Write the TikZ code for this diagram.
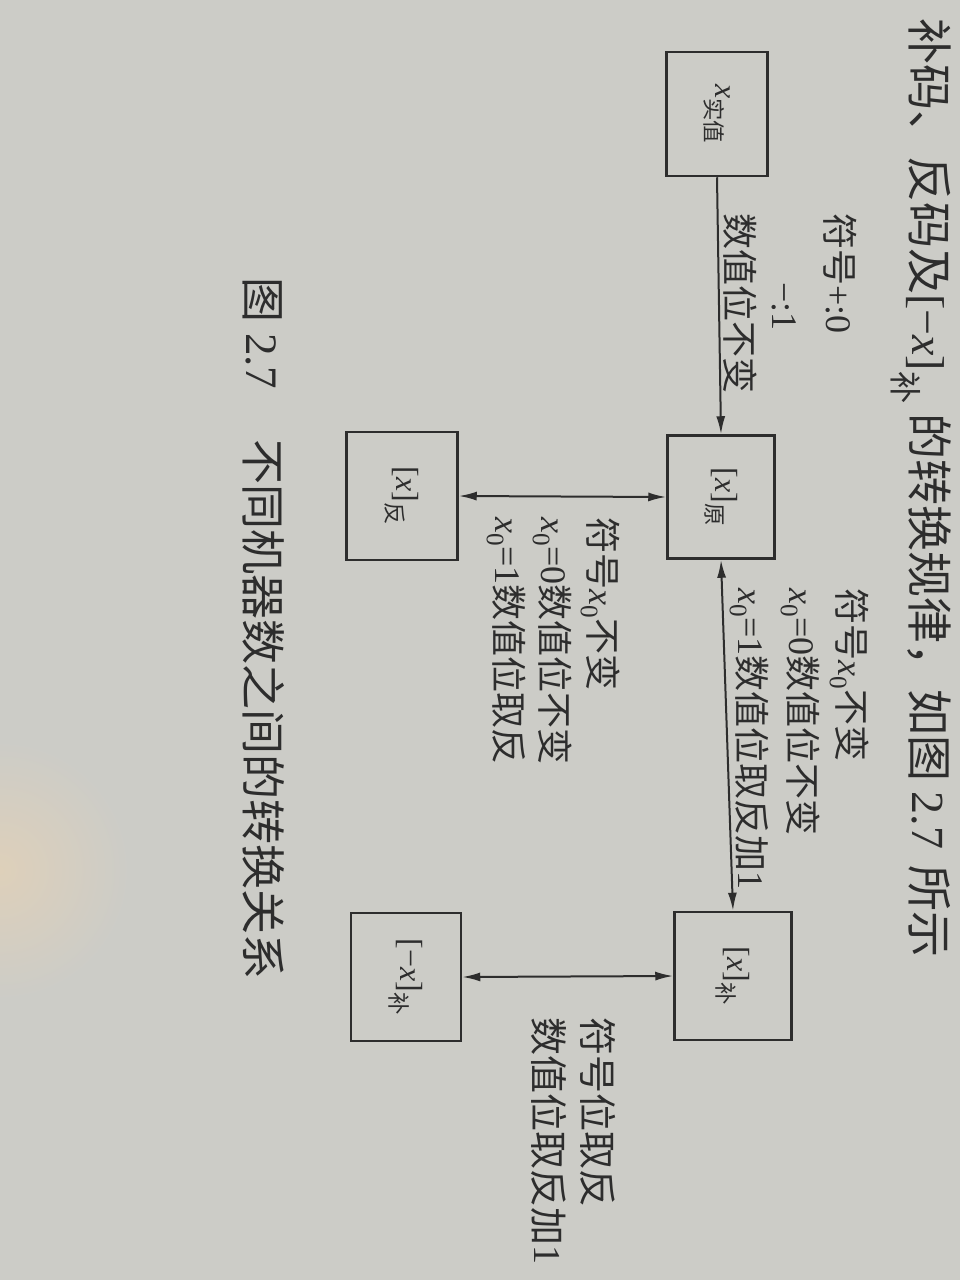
\documentclass[tikz,border=0pt]{standalone}
\usepackage{fontspec}
\setmainfont{Liberation Serif}
\newfontfamily\cjk{Noto Sans CJK SC}
\usetikzlibrary{arrows.meta}
\newcommand{\zh}[1]{{\cjk #1}}
\newcommand{\xx}{\textit{x}}
\definecolor{paper}{RGB}{204,204,199}
\definecolor{ink}{RGB}{45,45,45}
\definecolor{glare}{RGB}{222,208,186}
\begin{document}
\begin{tikzpicture}[x=1pt,y=-1pt,
  box/.style={draw=ink, line width=2.5pt, rotate=-90, inner sep=0pt, text=ink,
    font=\fontsize{32}{36}\selectfont},
  lab/.style={rotate=-90, anchor=base west, inner sep=0pt, text=ink,
    font=\fontsize{36}{40}\selectfont},
  arr/.style={draw=ink, line width=2pt, -{Latex[length=18pt,width=9pt]}},
  darr/.style={draw=ink, line width=2pt, {Latex[length=18pt,width=9pt]}-{Latex[length=18pt,width=9pt]}},
]
\useasboundingbox (0,0) rectangle (960,1280);
\clip (0,0) rectangle (960,1280);
\fill[paper] (0,0) rectangle (960,1280);
\shade[inner color=glare, outer color=paper] (0,870) circle (130);

% boxes
\node[box, minimum width=124pt, minimum height=101pt] (xs) at (717,114) {\xx\textsubscript{\zh{实值}}};
\node[box, minimum width=123pt, minimum height=107pt] (yuan) at (721,497) {[\xx]\textsubscript{\zh{原}}};
\node[box, minimum width=128pt, minimum height=111pt] (fan) at (402,496) {[\xx]\textsubscript{\zh{反}}};
\node[box, minimum width=128pt, minimum height=117pt] (bu) at (733,976) {[\xx]\textsubscript{\zh{补}}};
\node[box, minimum width=128pt, minimum height=110pt] (nbu) at (406,977) {[−\xx]\textsubscript{\zh{补}}};

% connectors
\draw[arr] (xs.east) -- (yuan.west);
\draw[darr] (yuan.south) -- (fan.north);
\draw[darr] (yuan.east) -- (bu.west);
\draw[darr] (bu.south) -- (nbu.north);

% labels: x实值 -> [x]原
\node[lab] (l1) at (726,213) {\zh{数值位不变}};
\node[lab] (l2) at (826,213) {\zh{符号}+:0};
\node[lab] (l3) at (772,282) {−:1};

% labels: [x]原 <-> [x]反
\node[lab] (l4a) at (589,517) {\zh{符号}\xx\textsubscript{0}\zh{不变}};
\node[lab] (l4b) at (541,517) {\xx\textsubscript{0}=0\zh{数值位不变}};
\node[lab] (l4c) at (495,517) {\xx\textsubscript{0}=1\zh{数值位取反}};

% labels: [x]原 <-> [x]补
\node[lab] (l5a) at (838,588) {\zh{符号}\xx\textsubscript{0}\zh{不变}};
\node[lab] (l5b) at (789,588) {\xx\textsubscript{0}=0\zh{数值位不变}};
\node[lab] (l5c) at (738,588) {\xx\textsubscript{0}=1\zh{数值位取反加}1};

% labels: [x]补 <-> [-x]补
\node[lab, font=\fontsize{38}{42}\selectfont] (l6a) at (583,1017) {\zh{符号位取反}};
\node[lab, font=\fontsize{38}{42}\selectfont] (l6b) at (534,1017) {\zh{数值位取反加}1};

% caption
\node[lab, font=\fontsize{45}{50}\selectfont] (cap) at (246,277)
  {\zh{图}\hspace{11pt}2.7\hspace{50pt}\zh{不同机器数之间的转换关系}};

% body text of the page
\node[lab, font=\fontsize{46}{50}\selectfont] (body) at (912,18)
  {\zh{补码、反码及}[−\xx]\textsubscript{\zh{补}}\hspace{10pt}\zh{的转换规律，如图}\hspace{10pt}2.7\hspace{16pt}\zh{所示}};
\end{tikzpicture}
\end{document}
